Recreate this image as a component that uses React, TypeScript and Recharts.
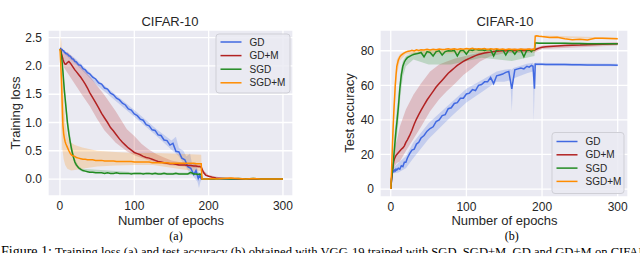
import { ComposedChart, Line, Area, XAxis, YAxis, CartesianGrid } from 'recharts'

// shared epoch grid for the mean curves
const EPOCHS = [
  0, 1, 2, 3, 4, 5, 6, 7, 8,
  10, 12, 14, 16, 18, 20, 22, 25, 28, 31, 34, 37, 40,
  44, 48, 52, 56, 60, 64, 68, 72, 76, 80, 84, 88, 92, 96, 100,
  104, 108, 112, 116, 120, 124, 128, 132, 136, 140, 144, 148, 152, 156, 160,
  164, 168, 172, 176, 180, 183, 186, 188, 190, 191, 193, 196,
  200, 205, 210, 220, 230, 240, 250, 260, 270, 280, 290, 300,
]

// (a) training loss
const LOSS_GD = [
  2.30, 2.31, 2.29, 2.29, 2.27, 2.27, 2.24, 2.24, 2.22,
  2.21, 2.18, 2.17, 2.13, 2.12, 2.08, 2.07, 2.02, 2.01, 1.95, 1.93, 1.88, 1.86,
  1.80, 1.77, 1.70, 1.68, 1.61, 1.59, 1.52, 1.49, 1.43, 1.40, 1.34, 1.31, 1.24, 1.22, 1.15,
  1.12, 1.06, 1.04, 0.96, 0.94, 0.87, 0.86, 0.78, 0.77, 0.69, 0.68, 0.60, 0.63, 0.49, 0.48,
  0.37, 0.34, 0.22, 0.19, 0.08, 0.15, 0.01, 0.07, 0.00, 0.00, 0.00, 0.00,
  0, 0, 0, 0, 0, 0, 0, 0, 0, 0, 0, 0,
]
const LOSS_GDM = [
  2.30, 2.28, 2.22, 2.17, 2.12, 2.08, 2.05, 2.03, 2.03,
  2.06, 2.08, 2.05, 2.01, 1.97, 1.93, 1.90, 1.85, 1.80, 1.74, 1.68, 1.61, 1.53,
  1.44, 1.35, 1.26, 1.16, 1.08, 1.00, 0.91, 0.85, 0.78, 0.71, 0.65, 0.60, 0.55, 0.51, 0.47,
  0.45, 0.43, 0.40, 0.38, 0.37, 0.35, 0.33, 0.31, 0.30, 0.29, 0.28, 0.27, 0.27, 0.26, 0.25,
  0.25, 0.25, 0.24, 0.24, 0.23, 0.23, 0.22, 0.22, 0.21, 0.18, 0.12, 0.07,
  0.05, 0.03, 0.02, 0.01, 0.01, 0, 0, 0, 0, 0, 0, 0,
]
const LOSS_SGD = [
  2.30, 2.26, 2.18, 2.05, 1.90, 1.72, 1.55, 1.42, 1.28,
  1.00, 0.80, 0.64, 0.50, 0.39, 0.30, 0.25, 0.20, 0.17, 0.15, 0.14, 0.13, 0.12,
  0.12, 0.11, 0.11, 0.11, 0.10, 0.11, 0.10, 0.10, 0.11, 0.10, 0.10, 0.10, 0.10, 0.09, 0.10,
  0.10, 0.10, 0.09, 0.10, 0.10, 0.09, 0.10, 0.09, 0.09, 0.10, 0.09, 0.09, 0.09, 0.10, 0.09,
  0.09, 0.09, 0.09, 0.12, 0.09, 0.09, 0.08, 0.09, 0.08, 0.00, 0.00, 0.00,
  0, 0, 0, 0.01, 0, 0.01, 0, 0.01, 0, 0, 0, 0,
]
const LOSS_SGDM = [
  2.30, 2.05, 1.75, 1.35, 0.95, 0.80, 0.72, 0.66, 0.62,
  0.56, 0.50, 0.45, 0.42, 0.41, 0.40, 0.38, 0.37, 0.36, 0.35, 0.35, 0.34, 0.34,
  0.34, 0.33, 0.33, 0.33, 0.32, 0.32, 0.32, 0.32, 0.31, 0.31, 0.31, 0.31, 0.31, 0.31, 0.30,
  0.30, 0.30, 0.30, 0.30, 0.30, 0.29, 0.29, 0.29, 0.29, 0.29, 0.29, 0.28, 0.28, 0.28, 0.28,
  0.28, 0.28, 0.28, 0.28, 0.28, 0.27, 0.27, 0.27, 0.27, 0.00, 0.00, 0.00,
  0, 0.01, 0, 0.01, 0.02, 0.01, 0, 0.01, 0, 0, 0, 0,
]

// (b) test accuracy
const ACC_GD = [
  0, 5, 10, 10.5, 10, 11, 10.5, 11.5, 11,
  12, 11.5, 13.5, 13, 15.5, 15.5, 18, 20.5, 22.5, 23, 26, 27, 29.5,
  31, 33.5, 35, 36, 39, 40, 42.5, 43, 46.5, 47, 49.5, 50, 52.5, 52.5, 55,
  55.5, 57.5, 57, 60, 60.5, 62, 62, 64.5, 61, 65.5, 66, 66.5, 67.5, 68, 58,
  69, 69.5, 70, 69.5, 71, 70.5, 71.5, 71, 58, 72.3, 72.2, 72.2,
  72.2, 72.1, 72.1, 72.0, 72.0, 71.9, 71.9, 71.8, 71.8, 71.7, 71.7, 71.6,
]
const ACC_GDM = [
  0, 5, 10, 13, 16, 17.5, 18.5, 19.5, 20,
  21, 22, 23, 23.8, 25, 27, 28.5, 31, 34, 37.5, 40.5, 43, 45.5,
  48.5, 51.5, 54, 56.5, 59, 61, 63, 65, 67, 68.5, 70, 71.5, 72.7, 73.8, 74.8,
  75.6, 76.4, 77.2, 77.8, 78.3, 78.7, 79, 79.2, 79.5, 79.7, 79.8, 80, 80, 80.1, 80.1,
  80.1, 80.2, 80.2, 80.2, 80.2, 80.3, 80.3, 80.3, 80.3, 80.6, 81, 81.5,
  82, 82.3, 82.5, 82.8, 83, 83.2, 83.3, 83.5, 83.6, 83.8, 83.9, 84,
]
const ACC_SGD = [
  0, 6, 10, 13, 19, 24, 29, 34, 38,
  47, 58, 66, 71, 73.5, 75, 76, 76.8, 77.5, 78, 78.2, 78.6, 79,
  76.5, 79.5, 79, 77, 79.5, 80, 77.5, 79.5, 80, 79.8, 80.2, 77, 80, 80.3, 78,
  80.5, 80.2, 80.8, 80.5, 80.6, 80.2, 80.7, 80.5, 77, 80.6, 80.4, 80.6, 77.5, 80.5, 80.3,
  78, 80.5, 80.3, 76.5, 80.4, 80.6, 79.5, 80.5, 80.5, 84.5, 84.5, 84.4,
  84.4, 84.4, 84.3, 84.3, 84.3, 84.2, 84.2, 84.1, 84.1, 84.1, 84, 84,
]
const ACC_SGDM = [
  0, 10, 22, 34, 44, 52, 60, 66, 71,
  74.5, 76.5, 77.5, 78.2, 78.8, 79.2, 79.6, 79.8, 80.3, 79.9, 80.5, 80.2, 80.6,
  80.4, 80.8, 80.5, 80.9, 80.6, 81, 80.7, 80.9, 81.2, 80.8, 81.1, 80.7, 81.2, 80.9, 81.3,
  81, 81.4, 80.9, 81.2, 81, 81.3, 80.8, 81.2, 80.9, 81.1, 80.7, 81, 80.6, 81, 80.7,
  80.9, 80.6, 81, 80.7, 80.8, 81, 80.6, 80.9, 80.8, 88.5, 88.6, 88.4,
  88.2, 88, 87.6, 87.8, 87, 86.3, 86.6, 86.2, 87.2, 87.2, 87.1, 87,
]

// shaded spread: [epoch, low, high]
const BAND_LOSS_GD = [
  [0, 2.28, 2.32], [20, 2.05, 2.14], [50, 1.66, 1.76], [100, 1.10, 1.22], [130, 0.76, 0.88],
  [150, 0.52, 0.68], [156, 0.45, 0.75], [160, 0.40, 0.55], [166, 0.28, 0.50], [170, 0.20, 0.40],
  [175, 0.10, 0.45], [178, 0.08, 0.25], [182, 0.00, 0.30], [185, -0.05, 0.18], [187, -0.16, 0.10],
  [189, -0.05, 0.05], [191, 0, 0], [300, 0, 0],
]
const BAND_LOSS_GDM = [
  [0, 2.30, 2.30], [5, 1.98, 2.22], [10, 1.88, 2.25], [20, 1.68, 2.12], [30, 1.48, 1.95],
  [40, 1.29, 1.82], [50, 1.06, 1.65], [60, 0.86, 1.48], [75, 0.64, 1.20], [90, 0.49, 0.88],
  [100, 0.42, 0.76], [110, 0.37, 0.62], [120, 0.33, 0.52], [130, 0.29, 0.44], [140, 0.26, 0.38],
  [150, 0.24, 0.33], [160, 0.23, 0.30], [175, 0.21, 0.28], [190, 0.19, 0.25], [193, 0.09, 0.15],
  [200, 0.04, 0.07], [220, 0.00, 0.02], [300, 0.00, 0.01],
]
const BAND_LOSS_SGD = [
  [0, 2.30, 2.30], [3, 1.95, 2.15], [6, 1.40, 1.70], [10, 0.88, 1.12], [15, 0.50, 0.66],
  [20, 0.25, 0.36], [25, 0.17, 0.23], [30, 0.13, 0.18], [100, 0.08, 0.12], [190, 0.07, 0.11],
  [191, 0, 0], [300, 0, 0],
]
const BAND_LOSS_SGDM = [
  [0, 2.30, 2.30], [1, 1.40, 2.52], [2, 0.90, 2.40], [3, 0.55, 2.10], [5, 0.35, 1.50],
  [7, 0.25, 1.00], [10, 0.18, 0.75], [15, 0.15, 0.64], [20, 0.16, 0.60], [30, 0.18, 0.56],
  [50, 0.22, 0.50], [75, 0.24, 0.48], [100, 0.25, 0.46], [125, 0.25, 0.46], [150, 0.20, 0.45],
  [175, 0.15, 0.44], [190, 0.14, 0.43], [191, 0, 0.01], [300, 0, 0.01],
]
const BAND_ACC_GD = [
  [0, 0, 0], [3, 9, 12], [10, 9.5, 15], [20, 12, 19], [30, 18, 27], [50, 29, 38], [80, 42, 50],
  [100, 50, 58], [120, 56, 63], [140, 62, 68], [150, 62, 69], [158, 63, 69.5], [160, 45, 69],
  [162, 64, 70], [180, 67, 72.5], [188, 68, 73], [189, 39, 72], [191, 71.5, 73], [300, 71, 72.5],
]
const BAND_ACC_GDM = [
  [0, 0, 0], [2, 9, 11], [5, 13, 24], [8, 15, 28], [12, 16, 36], [20, 22, 46], [30, 29, 54.5],
  [40, 36, 61], [52, 45, 68], [64, 52, 72], [74, 56.5, 73.8], [85, 61, 75.5], [96, 66, 76.7],
  [108, 70, 78], [118, 73.8, 79], [131, 76.7, 80], [150, 78.5, 81], [190, 79, 81.5],
  [200, 81, 83], [300, 83, 85],
]
const BAND_ACC_SGD = [
  [0, 0, 0], [2, 9, 11], [5, 18, 32], [8, 30, 46], [10, 38, 54], [12, 50, 64], [14, 58, 70],
  [16, 65, 74], [20, 71, 77], [30, 75, 79], [50, 72, 80.5], [80, 72, 81], [120, 76, 81],
  [160, 74, 81], [190, 77, 81], [191, 84, 85], [300, 83.5, 84.5],
]
const BAND_ACC_SGDM = [
  [0, 0, 0], [3, 28, 40], [5, 45, 60], [8, 66, 75], [12, 74, 78], [20, 78, 80],
  [190, 79.5, 81.5], [191, 88, 89], [300, 86.5, 87.5],
]

const X_TICKS = [0, 100, 200, 300]
const LOSS_TICKS = [0, 0.5, 1, 1.5, 2, 2.5]
const ACC_TICKS = [0, 20, 40, 60, 80]

const SERIES = [
  { key: 'gd', name: 'GD', color: '#4169e1' },
  { key: 'gdm', name: 'GD+M', color: '#b22222' },
  { key: 'sgd', name: 'SGD', color: '#228b22' },
  { key: 'sgdm', name: 'SGD+M', color: '#ff8c00' },
]

const SANS = '"Liberation Sans", Arial, sans-serif'
const SERIF = '"Liberation Serif", "Times New Roman", serif'
const INK = '#262626'

const toBand = (rows: number[][]) => rows.map(([e, lo, hi]) => ({ epoch: e, band: [lo, hi] }))

const lossData = EPOCHS.map((e, i) => ({
  epoch: e, gd: LOSS_GD[i], gdm: LOSS_GDM[i], sgd: LOSS_SGD[i], sgdm: LOSS_SGDM[i],
}))
const accData = EPOCHS.map((e, i) => ({
  epoch: e, gd: ACC_GD[i], gdm: ACC_GDM[i], sgd: ACC_SGD[i], sgdm: ACC_SGDM[i],
}))

const lossBands = [BAND_LOSS_GD, BAND_LOSS_GDM, BAND_LOSS_SGD, BAND_LOSS_SGDM].map(toBand)
const accBands = [BAND_ACC_GD, BAND_ACC_GDM, BAND_ACC_SGD, BAND_ACC_SGDM].map(toBand)

interface PanelProps {
  left: number
  width: number
  height: number
  marginRight: number
  data: any[]
  bands: any[][]
  xDomain: [number, number]
  yDomain: [number, number]
  yTicks: number[]
  yFormat: (v: number) => string
}

function Panel({ left, width, height, marginRight, data, bands, xDomain, yDomain, yTicks, yFormat }: PanelProps) {
  const tick = { fontFamily: SANS, fontSize: 12, fill: INK }
  return (
    <div style={{ position: 'absolute', left, top: 0 }}>
      <ComposedChart width={width} height={height} data={data}
        margin={{ top: 30, right: marginRight, left: 0, bottom: 0 }}>
        <CartesianGrid fill="#eaeaf2" stroke="#ffffff" strokeWidth={1.3} />
        <XAxis dataKey="epoch" type="number" domain={xDomain} ticks={X_TICKS} allowDataOverflow
          height={19} axisLine={false} tickLine={false} tickSize={0} tickMargin={5} tick={tick} />
        <YAxis type="number" domain={yDomain} ticks={yTicks} allowDataOverflow width={48}
          axisLine={false} tickLine={false} tickSize={0} tickMargin={6} tick={tick}
          tickFormatter={yFormat} />
        {SERIES.map((s, i) => (
          <Area key={`band-${s.key}`} data={bands[i]} dataKey="band" type="linear"
            stroke="none" fill={s.color} fillOpacity={0.22} dot={false} activeDot={false}
            isAnimationActive={false} />
        ))}
        {SERIES.map(s => (
          <Line key={s.key} dataKey={s.key} type="linear" stroke={s.color} strokeWidth={1.5}
            dot={false} activeDot={false} isAnimationActive={false} />
        ))}
      </ComposedChart>
    </div>
  )
}

function LegendBox({ x, y, w, h, rows }: { x: number; y: number; w: number; h: number; rows: number[] }) {
  return (
    <g>
      <rect x={x + 0.5} y={y + 0.5} width={w} height={h} rx={3} fill="#eaeaf2" fillOpacity={0.85}
        stroke="#cfcfd6" strokeWidth={1} />
      {SERIES.map((s, i) => (
        <g key={s.key}>
          <line x1={x + 5} x2={x + 26} y1={rows[i]} y2={rows[i]} stroke={s.color} strokeWidth={1.5} />
          <text x={x + 34} y={rows[i] + 3.6} fontFamily={SANS} fontSize={10} fill={INK}>{s.name}</text>
        </g>
      ))}
    </g>
  )
}

export default function App() {
  return (
    <div style={{ position: 'fixed', left: 0, top: 0, width: 640, height: 253, overflow: 'hidden', background: '#fff' }}>
      <Panel left={0} width={300} height={215} marginRight={7} data={lossData} bands={lossBands}
        xDomain={[-16.1, 313.5]} yDomain={[-0.3, 2.636]} yTicks={LOSS_TICKS} yFormat={v => v.toFixed(1)} />
      <Panel left={332} width={300} height={216} marginRight={4} data={accData} bands={accBands}
        xDomain={[-14.2, 313.6]} yDomain={[-4.6, 92]} yTicks={ACC_TICKS} yFormat={v => String(v)} />
      <svg width={640} height={253} style={{ position: 'absolute', left: 0, top: 0, pointerEvents: 'none' }}>
        <text x={170} y={25.5} textAnchor="middle" fontFamily={SANS} fontSize={13} fill={INK}>CIFAR-10</text>
        <text x={505} y={25.5} textAnchor="middle" fontFamily={SANS} fontSize={13} fill={INK}>CIFAR-10</text>
        <text transform="translate(19.5,113) rotate(-90)" textAnchor="middle" fontFamily={SANS} fontSize={13} fill={INK}>Training loss</text>
        <text transform="translate(354.3,113) rotate(-90)" textAnchor="middle" fontFamily={SANS} fontSize={13} fill={INK}>Test accuracy</text>
        <text x={171} y={225} textAnchor="middle" fontFamily={SANS} fontSize={13} fill={INK}>Number of epochs</text>
        <text x={504.5} y={225} textAnchor="middle" fontFamily={SANS} fontSize={13} fill={INK}>Number of epochs</text>
        <text x={176} y={239.5} textAnchor="middle" fontFamily={SERIF} fontSize={12} fill="#000">(a)</text>
        <text x={511.7} y={239.5} textAnchor="middle" fontFamily={SERIF} fontSize={12} fill="#000">(b)</text>
        <LegendBox x={215.5} y={33.5} w={74} h={59} rows={[42, 55.6, 69.2, 82.8]} />
        <LegendBox x={551.5} y={132} w={72} h={61} rows={[141.5, 154.8, 168.1, 181.4]} />
        <text y={256} fontFamily={SERIF} fill="#000">
          <tspan x={1} fontSize={14}>Figure 1:</tspan>
          <tspan x={55} fontSize={12.6}>Training loss (a) and test accuracy (b) obtained with VGG-19 trained with SGD, SGD+M, GD and GD+M on CIFAR-10.</tspan>
        </text>
      </svg>
    </div>
  )
}
